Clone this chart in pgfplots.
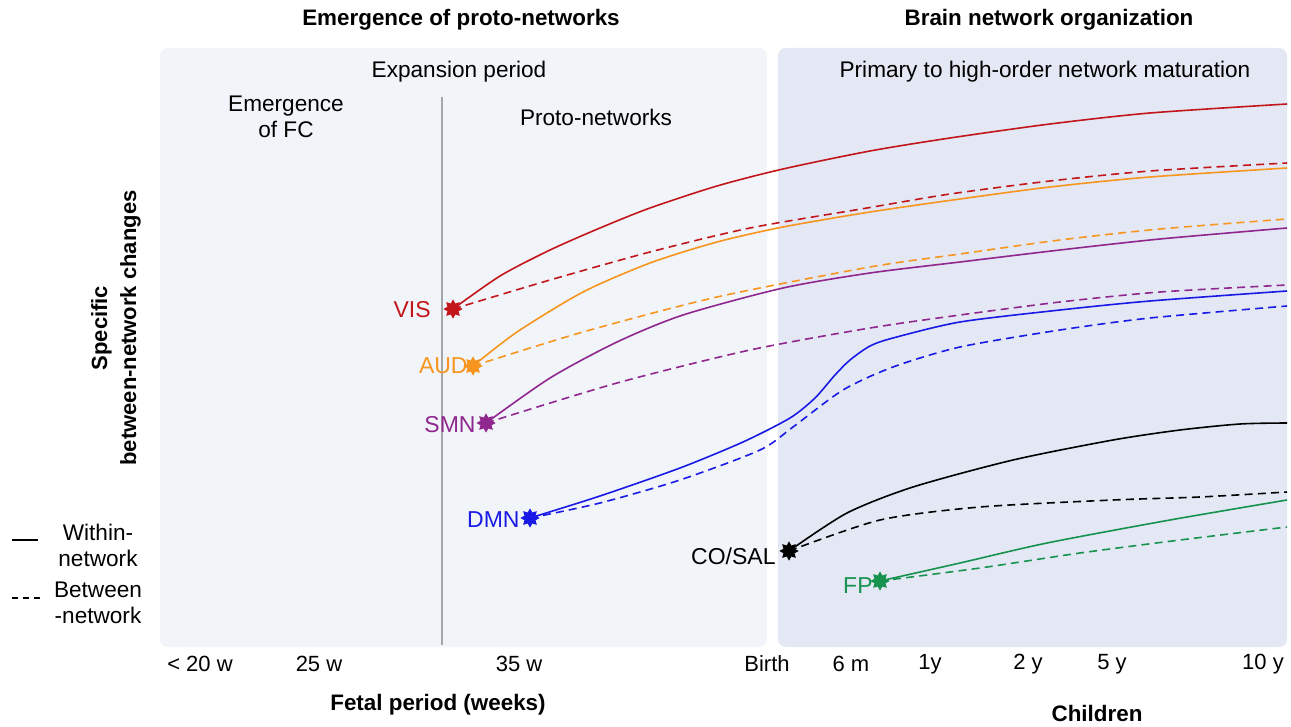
\documentclass[border=0pt]{standalone}
\usepackage{pgfplots}
\pgfplotsset{compat=1.18}
\usepackage{fontspec}
\setmainfont{Liberation Sans}
\definecolor{cvis}{HTML}{C3161B}
\definecolor{caud}{HTML}{F7951E}
\definecolor{csmn}{HTML}{8F278F}
\definecolor{cdmn}{HTML}{1A1AE6}
\definecolor{csal}{HTML}{000000}
\definecolor{cfp}{HTML}{17924F}
\definecolor{bgleft}{HTML}{F1F4F9}
\definecolor{bgright}{HTML}{E3E8F4}
\pgfdeclareplotmark{star8}{%
  \pgfpathmoveto{\pgfpointpolar{90}{\pgfplotmarksize}}%
  \pgfpathlineto{\pgfpointpolar{112.5}{0.62\pgfplotmarksize}}%
  \pgfpathlineto{\pgfpointpolar{135}{\pgfplotmarksize}}%
  \pgfpathlineto{\pgfpointpolar{157.5}{0.62\pgfplotmarksize}}%
  \pgfpathlineto{\pgfpointpolar{180}{\pgfplotmarksize}}%
  \pgfpathlineto{\pgfpointpolar{202.5}{0.62\pgfplotmarksize}}%
  \pgfpathlineto{\pgfpointpolar{225}{\pgfplotmarksize}}%
  \pgfpathlineto{\pgfpointpolar{247.5}{0.62\pgfplotmarksize}}%
  \pgfpathlineto{\pgfpointpolar{270}{\pgfplotmarksize}}%
  \pgfpathlineto{\pgfpointpolar{292.5}{0.62\pgfplotmarksize}}%
  \pgfpathlineto{\pgfpointpolar{315}{\pgfplotmarksize}}%
  \pgfpathlineto{\pgfpointpolar{337.5}{0.62\pgfplotmarksize}}%
  \pgfpathlineto{\pgfpointpolar{0}{\pgfplotmarksize}}%
  \pgfpathlineto{\pgfpointpolar{22.5}{0.62\pgfplotmarksize}}%
  \pgfpathlineto{\pgfpointpolar{45}{\pgfplotmarksize}}%
  \pgfpathlineto{\pgfpointpolar{67.5}{0.62\pgfplotmarksize}}%
  \pgfpathclose
  \pgfusepathqfillstroke}
\begin{document}
\begin{tikzpicture}
\begin{axis}[scale only axis, width=645.5pt, height=363.5pt,
  xmin=0, xmax=1291, ymin=0, ymax=727, y dir=reverse,
  hide axis, clip=false,
  every axis plot/.append style={line width=0.8pt},
  sol/.style={smooth, tension=0.45, no marks},
  das/.style={smooth, tension=0.45, no marks, dash pattern=on 4pt off 2.6pt},
  st/.style={only marks, mark=star8, mark size=4pt}]
% backgrounds
\fill[white] (axis cs:0,0) rectangle (axis cs:1291,727);
\fill[bgleft, rounded corners=4pt] (axis cs:160,48) rectangle (axis cs:767,647);
\fill[bgright, rounded corners=4pt] (axis cs:778,48) rectangle (axis cs:1287,647);
\draw[gray!70, line width=0.6pt] (axis cs:442,97) -- (axis cs:442,645);
% VIS
\addplot[cvis, sol] coordinates {(453,309) (500,276) (550,250) (600,228) (650,208) (717,186) (783,169) (870,151) (950,138) (1050,124) (1150,113) (1287,104)};
\addplot[cvis, das] coordinates {(453,309) (550,280) (650,252) (750,228) (867,208) (950,194) (1050,181) (1150,171) (1287,163)};
% AUD
\addplot[caud, sol] coordinates {(473,366) (517,332) (583,292) (650,263) (717,242) (783,227) (870,212) (960,199) (1050,187) (1150,177) (1287,168)};
\addplot[caud, das] coordinates {(473,366) (583,332) (717,297) (870,267) (960,254) (1060,240) (1160,229) (1287,219)};
% SMN
\addplot[csmn, sol] coordinates {(486,423) (550,378) (617,342) (683,315) (783,288) (870,273) (960,262) (1060,250) (1160,239) (1287,228)};
\addplot[csmn, das] coordinates {(486,423) (617,383) (750,350) (870,328) (960,315) (1060,302) (1160,292) (1287,285)};
% DMN
\addplot[cdmn, sol] coordinates {(530,518) (600,496) (680,468) (743,442) (790,418) (815,398) (835,375) (850,360) (870,346) (893,338) (960,322) (1060,310) (1150,301) (1287,291)};
\addplot[cdmn, das] coordinates {(530,518) (600,503) (680,480) (760,450) (793,427) (843,390) (893,367) (960,347) (1060,330) (1150,318) (1287,306)};
% CO/SAL
\addplot[csal, sol] coordinates {(789,551) (847,513) (913,487) (1013,460) (1113,440) (1180,430) (1240,424) (1287,423)};
\addplot[csal, das] coordinates {(789,551) (880,520) (980,507) (1113,500) (1200,497) (1287,492)};
% FP
\addplot[cfp, sol] coordinates {(880,581) (960,563) (1047,543) (1170,520) (1287,500)};
\addplot[cfp, das] coordinates {(880,581) (980,568) (1080,553) (1180,540) (1287,527)};
% stars
\addplot[cvis, st] coordinates {(453,309)};
\addplot[caud, st] coordinates {(473,366)};
\addplot[csmn, st] coordinates {(486,423)};
\addplot[cdmn, st] coordinates {(530,518)};
\addplot[csal, st] coordinates {(789,551)};
\addplot[cfp, st] coordinates {(880,581)};
% network labels
\begin{scope}[every node/.style={font=\fontsize{11.5}{13}\selectfont, anchor=east, inner sep=0pt}]
\node[text=cvis] at (axis cs:431,310) {VIS};
\node[text=caud] at (axis cs:468,366) {AUD};
\node[text=csmn] at (axis cs:476,425) {SMN};
\node[text=cdmn] at (axis cs:520,520) {DMN};
\node[text=csal] at (axis cs:776,556) {CO/SAL};
\node[text=cfp] at (axis cs:873,586) {FP};
\end{scope}
% titles
\begin{scope}[every node/.style={font=\fontsize{11.2}{13}\selectfont\bfseries, inner sep=0pt}]
\node at (axis cs:461,20) {Emergence of proto-networks};
\node at (axis cs:1049,20) {Brain network organization};
\node at (axis cs:438,705) {Fetal period (weeks)};
\node at (axis cs:1097,713) {Children};
\node[rotate=90, align=center, font=\fontsize{11}{14.5}\selectfont\bfseries] at (axis cs:116,328) {Specific\\between-network changes};
\end{scope}
\begin{scope}[every node/.style={font=\fontsize{11.3}{13}\selectfont, inner sep=0pt}]
\node at (axis cs:459,72) {Expansion period};
\node at (axis cs:1045,72) {Primary to high-order network maturation};
\node[align=center] at (axis cs:286,117) {Emergence\\of FC};
\node at (axis cs:596,117) {Proto-networks};
\node[align=center] at (axis cs:98,545) {Within-\\network};
\node[align=center] at (axis cs:98,603) {Between\\-network};
\end{scope}
\draw[black, line width=0.8pt] (axis cs:12,540) -- (axis cs:38,540);
\draw[black, line width=0.8pt, dash pattern=on 3pt off 2.5pt] (axis cs:12,598) -- (axis cs:40,598);
% tick labels
\begin{scope}[every node/.style={font=\fontsize{11}{13}\selectfont, inner sep=0pt}]
\node at (axis cs:200,664) {< 20 w};
\node at (axis cs:319,664) {25 w};
\node at (axis cs:519,664) {35 w};
\node at (axis cs:767,664) {Birth};
\node at (axis cs:851,664) {6 m};
\node at (axis cs:930,664) {1y};
\node at (axis cs:1028,664) {2 y};
\node at (axis cs:1112,664) {5 y};
\node at (axis cs:1263,664) {10 y};
\end{scope}
\end{axis}
\end{tikzpicture}
\end{document}
